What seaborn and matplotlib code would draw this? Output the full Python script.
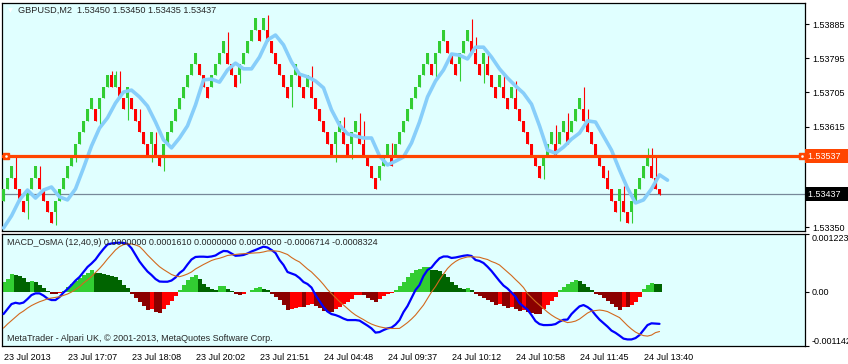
import numpy as np
import seaborn as sns
import matplotlib.pyplot as plt
from matplotlib.transforms import blended_transform_factory

sns.set_style("white")
plt.rcParams['font.family'] = ['Liberation Sans', 'DejaVu Sans']
plt.rcParams['font.size'] = 6.5

header = "GBPUSD,M2  1.53450 1.53450 1.53435 1.53437"
macd_header = "MACD_OsMA (12,40,9) 0.0000000 0.0001610 0.0000000 0.0000000 -0.0006714 -0.0008324"
copyright_text = "MetaTrader - Alpari UK, \u00a9 2001-2013, MetaQuotes Software Corp."

# candles (one per bar)
opens = [1.5342, 1.5345, 1.5348, 1.5348, 1.5345, 1.5342, 1.5342, 1.5345, 1.5348, 1.5348,
         1.5345, 1.5342, 1.5339, 1.5339, 1.5342, 1.5345, 1.5348, 1.5351, 1.5354, 1.5357,
         1.5360, 1.5363, 1.5366, 1.5366, 1.5366, 1.5369, 1.5372, 1.5375, 1.5372, 1.5372,
         1.5369, 1.5369, 1.5369, 1.5366, 1.5363, 1.5360, 1.5357, 1.5357, 1.5357, 1.5354,
         1.5354, 1.5357, 1.5360, 1.5363, 1.5366, 1.5369, 1.5372, 1.5375, 1.5378, 1.5378,
         1.5375, 1.5372, 1.5372, 1.5375, 1.5378, 1.5381, 1.5381, 1.5378, 1.5375, 1.5375,
         1.5378, 1.5381, 1.5384, 1.5387, 1.5387, 1.5387, 1.5387, 1.5384, 1.5381, 1.5378,
         1.5375, 1.5372, 1.5372, 1.5375, 1.5375, 1.5372, 1.5372, 1.5372, 1.5369, 1.5366,
         1.5363, 1.5360, 1.5357, 1.5357, 1.5360, 1.5360, 1.5357, 1.5357, 1.5360, 1.5360,
         1.5357, 1.5354, 1.5351, 1.5348, 1.5348, 1.5351, 1.5354, 1.5354, 1.5354, 1.5357,
         1.5360, 1.5363, 1.5366, 1.5369, 1.5372, 1.5375, 1.5378, 1.5378, 1.5378, 1.5381,
         1.5384, 1.5384, 1.5381, 1.5378, 1.5378, 1.5381, 1.5384, 1.5384, 1.5381, 1.5378,
         1.5378, 1.5378, 1.5375, 1.5372, 1.5372, 1.5372, 1.5369, 1.5369, 1.5369, 1.5366,
         1.5363, 1.5360, 1.5357, 1.5354, 1.5351, 1.5351, 1.5354, 1.5357, 1.5357, 1.5357,
         1.5360, 1.5360, 1.5360, 1.5363, 1.5366, 1.5366, 1.5363, 1.5360, 1.5357, 1.5354,
         1.5351, 1.5348, 1.5345, 1.5342, 1.5342, 1.5342, 1.5339, 1.5339, 1.5342, 1.5345,
         1.5348, 1.5351, 1.5351, 1.5348, 1.5345]
closes = [1.5345, 1.5348, 1.5351, 1.5345, 1.5342, 1.5339, 1.5345, 1.5348, 1.5351, 1.5345,
          1.5342, 1.5339, 1.5336, 1.5342, 1.5345, 1.5348, 1.5351, 1.5354, 1.5357, 1.5360,
          1.5363, 1.5366, 1.5369, 1.5363, 1.5369, 1.5372, 1.5375, 1.5372, 1.5375, 1.5369,
          1.5366, 1.5372, 1.5366, 1.5363, 1.5360, 1.5357, 1.5354, 1.5360, 1.5354, 1.5351,
          1.5357, 1.5360, 1.5363, 1.5366, 1.5369, 1.5372, 1.5375, 1.5378, 1.5381, 1.5375,
          1.5372, 1.5369, 1.5375, 1.5378, 1.5381, 1.5384, 1.5378, 1.5375, 1.5372, 1.5378,
          1.5381, 1.5384, 1.5387, 1.5390, 1.5384, 1.5390, 1.5384, 1.5381, 1.5378, 1.5375,
          1.5372, 1.5369, 1.5375, 1.5378, 1.5372, 1.5369, 1.5375, 1.5369, 1.5366, 1.5363,
          1.5360, 1.5357, 1.5354, 1.5360, 1.5363, 1.5357, 1.5354, 1.5360, 1.5363, 1.5357,
          1.5354, 1.5351, 1.5348, 1.5345, 1.5351, 1.5354, 1.5357, 1.5351, 1.5357, 1.5360,
          1.5363, 1.5366, 1.5369, 1.5372, 1.5375, 1.5378, 1.5381, 1.5375, 1.5381, 1.5384,
          1.5387, 1.5381, 1.5378, 1.5375, 1.5381, 1.5384, 1.5387, 1.5381, 1.5378, 1.5375,
          1.5381, 1.5375, 1.5372, 1.5369, 1.5375, 1.5369, 1.5366, 1.5372, 1.5366, 1.5363,
          1.5360, 1.5357, 1.5354, 1.5351, 1.5348, 1.5354, 1.5357, 1.5360, 1.5354, 1.5360,
          1.5363, 1.5357, 1.5363, 1.5366, 1.5369, 1.5363, 1.5360, 1.5357, 1.5354, 1.5351,
          1.5348, 1.5345, 1.5342, 1.5339, 1.5345, 1.5339, 1.5336, 1.5342, 1.5345, 1.5348,
          1.5351, 1.5354, 1.5348, 1.5345, 1.53437]
upper_wicks = {3: 1.5354, 9: 1.5351, 27: 1.53762, 28: 1.53762, 29: 1.53762, 34: 1.5366,
               38: 1.5360, 56: 1.53864, 66: 1.53909, 77: 1.53774, 85: 1.53639, 89: 1.53651,
               90: 1.5363, 97: 1.53573, 117: 1.53897, 118: 1.53852, 121: 1.5381, 125: 1.5375,
               128: 1.53735, 138: 1.53618, 141: 1.53651, 145: 1.5372, 146: 1.5366,
               151: 1.53501, 155: 1.53459, 161: 1.53558, 162: 1.53558, 163: 1.5354}
lower_wicks = {6: 1.53372, 13: 1.53357, 18: 1.53522, 24: 1.53618, 31: 1.53633, 37: 1.53522,
               40: 1.53498, 59: 1.53729, 72: 1.53666, 83: 1.53522, 87: 1.53531, 94: 1.53474,
               108: 1.53744, 114: 1.53735, 120: 1.53729, 135: 1.53477, 154: 1.53366,
               157: 1.5336, 164: 1.53435}

# light blue moving average, read every second bar (it runs two bars past the last candle)
ma_bars = list(range(0, 168, 2))
ma_price = [1.53348, 1.53380, 1.53422, 1.53448, 1.53427, 1.53448, 1.53456, 1.53430, 1.53422, 1.53451,
            1.53506, 1.53564, 1.53611, 1.53638, 1.53677, 1.53706, 1.53711, 1.53693, 1.53669, 1.53627,
            1.53580, 1.53559, 1.53585, 1.53617, 1.53672, 1.53738, 1.53740, 1.53732, 1.53764, 1.53782,
            1.53767, 1.53767, 1.53798, 1.53843, 1.53856, 1.53830, 1.53785, 1.53753, 1.53746, 1.53735,
            1.53717, 1.53659, 1.53619, 1.53596, 1.53590, 1.53585, 1.53585, 1.53538, 1.53514, 1.53524,
            1.53535, 1.53572, 1.53627, 1.53693, 1.53735, 1.53764, 1.53806, 1.53803, 1.53793, 1.53824,
            1.53824, 1.53798, 1.53767, 1.53743, 1.53722, 1.53703, 1.53674, 1.53617, 1.53553, 1.53545,
            1.53561, 1.53582, 1.53598, 1.53630, 1.53627, 1.53590, 1.53553, 1.53501, 1.53453, 1.53414,
            1.53422, 1.53451, 1.53488, 1.53474]

macd = [-4.66e-4, -3.61e-4, -2.56e-4, -2.29e-4, -2.46e-4, -2.25e-4, -1.51e-4, -0.67e-4, -0.32e-4, -0.32e-4,
        -0.78e-4, -1.41e-4, -1.72e-4, -1.72e-4, -1.09e-4, -0.15e-4, 0.59e-4, 1.43e-4, 2.37e-4, 3.11e-4,
        4.16e-4, 5.21e-4, 5.94e-4, 6.78e-4, 7.94e-4, 8.99e-4, 9.93e-4, 10.14e-4, 10.25e-4, 10.31e-4,
        10.25e-4, 10.04e-4, 9.14e-4, 7.73e-4, 6.36e-4, 5.27e-4, 4.26e-4, 3.53e-4, 2.69e-4, 2.16e-4,
        2.12e-4, 2.12e-4, 2.37e-4, 3.00e-4, 3.95e-4, 4.58e-4, 5.73e-4, 6.78e-4, 7.31e-4, 7.37e-4,
        7.37e-4, 7.31e-4, 7.41e-4, 7.62e-4, 8.15e-4, 8.57e-4, 8.51e-4, 8.04e-4, 7.56e-4, 7.62e-4,
        7.73e-4, 8.04e-4, 8.46e-4, 8.78e-4, 9.14e-4, 9.47e-4, 9.30e-4, 8.78e-4, 8.15e-4, 6.68e-4,
        5.63e-4, 4.16e-4, 3.84e-4, 3.53e-4, 2.90e-4, 2.06e-4, 1.64e-4, 0.90e-4, -0.67e-4, -1.93e-4,
        -3.19e-4, -4.14e-4, -4.66e-4, -4.87e-4, -5.19e-4, -5.61e-4, -5.92e-4, -5.92e-4, -5.92e-4, -6.03e-4,
        -6.55e-4, -7.08e-4, -7.67e-4, -8.55e-4, -8.44e-4, -8.02e-4, -7.67e-4, -7.50e-4, -6.87e-4, -5.92e-4,
        -4.24e-4, -2.98e-4, -1.30e-4, 0.38e-4, 1.43e-4, 3.32e-4, 4.58e-4, 5.10e-4, 6.15e-4, 7.04e-4,
        7.41e-4, 7.41e-4, 7.10e-4, 7.20e-4, 7.37e-4, 7.56e-4, 7.67e-4, 7.52e-4, 6.68e-4, 6.47e-4,
        6.05e-4, 5.27e-4, 4.37e-4, 3.32e-4, 2.27e-4, 1.32e-4, 0.69e-4, -0.15e-4, -1.03e-4, -2.35e-4,
        -3.09e-4, -3.72e-4, -4.87e-4, -6.13e-4, -6.76e-4, -6.97e-4, -6.97e-4, -6.93e-4, -6.76e-4, -6.24e-4,
        -5.86e-4, -5.82e-4, -4.66e-4, -3.82e-4, -3.05e-4, -2.77e-4, -3.19e-4, -3.82e-4, -4.87e-4, -5.82e-4,
        -6.55e-4, -7.29e-4, -8.13e-4, -8.59e-4, -9.18e-4, -9.81e-4, -9.98e-4, -9.98e-4, -9.70e-4, -9.07e-4,
        -8.02e-4, -6.97e-4, -6.60e-4, -6.65e-4, -6.714e-4]
signal = [-7.60e-4, -6.76e-4, -6.03e-4, -5.29e-4, -4.56e-4, -4.03e-4, -3.40e-4, -2.88e-4, -2.46e-4, -2.08e-4,
          -1.79e-4, -1.47e-4, -1.30e-4, -1.16e-4, -1.03e-4, -0.74e-4, -0.46e-4, -0.04e-4, 0.48e-4, 1.07e-4,
          1.85e-4, 2.48e-4, 3.21e-4, 4.05e-4, 4.89e-4, 5.84e-4, 6.89e-4, 7.83e-4, 8.78e-4, 9.47e-4,
          9.89e-4, 10.04e-4, 10.04e-4, 9.83e-4, 9.51e-4, 8.67e-4, 7.73e-4, 6.89e-4, 6.05e-4, 5.27e-4,
          4.68e-4, 4.16e-4, 3.63e-4, 3.32e-4, 3.17e-4, 3.42e-4, 3.74e-4, 4.16e-4, 4.79e-4, 5.27e-4,
          5.73e-4, 6.15e-4, 6.57e-4, 6.85e-4, 7.04e-4, 7.31e-4, 7.62e-4, 7.73e-4, 7.85e-4, 7.94e-4,
          7.98e-4, 8.04e-4, 8.11e-4, 8.15e-4, 8.21e-4, 8.36e-4, 8.57e-4, 8.61e-4, 8.57e-4, 8.46e-4,
          8.15e-4, 7.83e-4, 7.20e-4, 6.68e-4, 6.26e-4, 5.52e-4, 4.79e-4, 4.16e-4, 3.32e-4, 2.48e-4,
          1.53e-4, 0.48e-4, -0.36e-4, -1.20e-4, -2.04e-4, -2.77e-4, -3.51e-4, -4.24e-4, -4.87e-4, -5.36e-4,
          -5.82e-4, -6.34e-4, -6.76e-4, -7.08e-4, -7.33e-4, -7.50e-4, -7.64e-4, -7.69e-4, -7.69e-4, -7.67e-4,
          -7.08e-4, -6.45e-4, -5.71e-4, -4.87e-4, -3.82e-4, -2.77e-4, -1.41e-4, -0.04e-4, 1.11e-4, 2.48e-4,
          3.74e-4, 4.89e-4, 5.73e-4, 6.36e-4, 6.83e-4, 7.10e-4, 7.31e-4, 7.35e-4, 7.31e-4, 7.25e-4,
          6.99e-4, 6.78e-4, 6.36e-4, 6.05e-4, 5.63e-4, 4.89e-4, 4.16e-4, 3.42e-4, 2.58e-4, 1.79e-4,
          0.90e-4, -0.36e-4, -1.20e-4, -2.04e-4, -2.77e-4, -3.51e-4, -4.24e-4, -4.87e-4, -5.40e-4, -5.82e-4,
          -6.13e-4, -6.45e-4, -6.34e-4, -6.13e-4, -5.71e-4, -5.08e-4, -4.45e-4, -4.03e-4, -3.93e-4, -3.82e-4,
          -3.93e-4, -4.14e-4, -4.56e-4, -4.98e-4, -5.40e-4, -6.24e-4, -7.08e-4, -7.81e-4, -8.44e-4, -8.86e-4,
          -9.18e-4, -9.28e-4, -9.07e-4, -8.55e-4, -8.324e-4]
osma = [2.10e-4, 2.73e-4, 3.78e-4, 3.57e-4, 3.36e-4, 2.94e-4, 2.10e-4, 2.31e-4, 2.10e-4, 1.37e-4,
        0.74e-4, 0.11e-4, -0.42e-4, -0.53e-4, -0.32e-4, 0.11e-4, 1.05e-4, 1.68e-4, 2.31e-4, 2.94e-4,
        3.57e-4, 3.99e-4, 4.52e-4, 3.99e-4, 3.89e-4, 3.84e-4, 3.57e-4, 3.36e-4, 3.05e-4, 2.52e-4,
        1.47e-4, 0.74e-4, -0.53e-4, -1.37e-4, -2.10e-4, -2.94e-4, -3.78e-4, -3.68e-4, -4.20e-4, -4.41e-4,
        -3.57e-4, -2.84e-4, -1.89e-4, -0.84e-4, 0.48e-4, 1.41e-4, 2.46e-4, 3.15e-4, 3.51e-4, 2.79e-4,
        1.74e-4, 1.05e-4, 0.69e-4, 0.48e-4, 1.20e-4, 1.26e-4, 0.69e-4, 0.21e-4, -0.48e-4, -0.69e-4,
        -0.36e-4, 0.06e-4, 0.48e-4, 0.90e-4, 1.05e-4, 0.69e-4, 0.36e-4, -0.36e-4, -1.05e-4, -1.74e-4,
        -2.79e-4, -3.72e-4, -3.68e-4, -3.36e-4, -3.15e-4, -3.26e-4, -2.73e-4, -2.52e-4, -2.94e-4, -3.47e-4,
        -3.99e-4, -4.20e-4, -4.31e-4, -3.68e-4, -3.15e-4, -2.63e-4, -2.10e-4, -1.47e-4, -0.74e-4, -0.63e-4,
        -0.74e-4, -1.26e-4, -1.68e-4, -2.10e-4, -1.47e-4, -0.84e-4, -0.42e-4, -0.17e-4, 0.36e-4, 1.20e-4,
        2.10e-4, 3.15e-4, 3.99e-4, 4.56e-4, 4.89e-4, 5.25e-4, 5.31e-4, 4.68e-4, 4.62e-4, 4.41e-4,
        3.84e-4, 3.15e-4, 2.10e-4, 1.41e-4, 0.90e-4, 0.69e-4, 0.90e-4, 0.48e-4, -0.42e-4, -0.84e-4,
        -1.26e-4, -1.68e-4, -2.21e-4, -2.79e-4, -2.63e-4, -3.05e-4, -3.36e-4, -3.26e-4, -3.57e-4, -3.99e-4,
        -3.89e-4, -4.20e-4, -4.41e-4, -4.56e-4, -4.58e-4, -3.57e-4, -2.73e-4, -1.89e-4, -1.05e-4, 0.32e-4,
        1.05e-4, 1.74e-4, 2.10e-4, 2.46e-4, 2.31e-4, 1.74e-4, 1.05e-4, 0.36e-4, -0.36e-4, -0.63e-4,
        -1.26e-4, -1.89e-4, -2.52e-4, -3.15e-4, -3.72e-4, -3.15e-4, -3.26e-4, -2.73e-4, -2.10e-4, -1.05e-4,
        0.63e-4, 1.37e-4, 1.89e-4, 1.70e-4, 1.61e-4]

time_labels = ["23 Jul 2013", "23 Jul 17:07", "23 Jul 18:08", "23 Jul 20:02", "23 Jul 21:51",
               "24 Jul 04:48", "24 Jul 09:37", "24 Jul 10:12", "24 Jul 10:58", "24 Jul 11:45",
               "24 Jul 13:40"]
time_label_bars = [0, 16, 32, 48, 64, 80, 96, 112, 128, 144, 160]
price_ticks = [1.53885, 1.53795, 1.53705, 1.53615, 1.53350]
hline_price = 1.53537
bid_price = 1.53437
macd_ticks = [0.001223, 0.0, -0.001142]

BG = '#E0FFFF'
UP, DOWN = '#32CD32', '#FF0000'
W, H = 848, 364

fig = plt.figure(figsize=(W / 100, H / 100), dpi=100)
fig.patch.set_facecolor('white')
ax = fig.add_axes([2 / W, 1 - 231 / H, 803 / W, 228 / H])
ax2 = fig.add_axes([2 / W, 1 - 346.3 / H, 803 / W, 112.8 / H])

for a in (ax, ax2):
    a.set_facecolor(BG)
    a.set_xlim(-0.375, 200.375)
    for s in a.spines.values():
        s.set_color('black')
        s.set_linewidth(0.9)

# ---- price panel
o = np.array(opens)
c = np.array(closes)
x = np.arange(len(o))
top = np.maximum(o, c)
bot = np.minimum(o, c)
hi = np.array([upper_wicks.get(k, t) for k, t in enumerate(top)])
lo = np.array([lower_wicks.get(k, b) for k, b in enumerate(bot)])
cols = np.where(c >= o, UP, DOWN)

ax.axhline(bid_price, color='#778899', lw=0.9, zorder=1)
ax.vlines(x, lo, hi, colors=cols, lw=0.8, zorder=2)
ax.bar(x, top - bot, bottom=bot, width=0.62, color=cols, lw=0, zorder=3)
sns.lineplot(x=ma_bars, y=ma_price, ax=ax, color='#87CEFA', lw=2.6, estimator=None, zorder=4)
ax.axhline(hline_price, color='#FF4500', lw=2.3, zorder=5)
ax.plot([0.55, 199.6], [hline_price] * 2, 's', ms=4.5, color='#FF4500', zorder=6)
ax.plot([0.55, 199.6], [hline_price] * 2, 's', ms=0.8, color='white', zorder=7)

ax.set_ylim(1.533402, 1.539403)
ax.set_xticks([])
ax.yaxis.tick_right()
ax.set_yticks(price_ticks)
ax.set_yticklabels([f"{p:.5f}" for p in price_ticks])
ax.tick_params(axis='y', direction='out', length=3, width=0.8, pad=2, labelsize=6.5, colors='black')
ax.set_xlabel('')
ax.set_ylabel('')

tr = blended_transform_factory(ax.transAxes, ax.transData)
ax.text(1.0035, hline_price, f"{hline_price:.5f}  ", transform=tr, ha='left', va='center',
        color='white', fontsize=6.5, clip_on=False,
        bbox=dict(boxstyle='square,pad=0.3', fc='#FF4500', ec='none'))
ax.text(1.0035, bid_price, f"{bid_price:.5f}  ", transform=tr, ha='left', va='center',
        color='white', fontsize=6.5, clip_on=False,
        bbox=dict(boxstyle='square,pad=0.3', fc='black', ec='none'))

# ---- MACD OsMA panel
h = np.array(osma)
hcols = []
for k, v in enumerate(h):
    p = h[k - 1] if k else v
    if v >= 0:
        hcols.append('#32CD32' if v >= p else '#006400')
    else:
        hcols.append('#FF0000' if v > p else '#8B0000')
ax2.bar(x, h, width=1.0, color=hcols, lw=0, zorder=2)
sns.lineplot(x=x, y=macd, ax=ax2, color='#0000FF', lw=1.6, estimator=None, zorder=3)
sns.lineplot(x=x, y=signal, ax=ax2, color='#D2691E', lw=0.8, estimator=None, zorder=4)

ax2.set_ylim(-0.001142, 0.001223)
ax2.yaxis.tick_right()
ax2.set_yticks(macd_ticks)
ax2.set_yticklabels(["0.001223", "0.00", "-0.001142"])
ax2.tick_params(axis='y', direction='out', length=3, width=0.8, pad=2, labelsize=6.5, colors='black')
labs = ax2.get_yticklabels()
labs[0].set_va('top')
labs[2].set_va('bottom')
ax2.set_xticks(time_label_bars)
ax2.set_xticklabels(time_labels, ha='left')
ax2.tick_params(axis='x', direction='out', length=4, width=0.8, pad=1, labelsize=6.5, colors='black')
ax2.set_xlabel('')
ax2.set_ylabel('')

fig.text(10 / W, 1 - 10.5 / H, '\u25bc', color='white', fontsize=4.5, ha='center', va='center',
         family=['DejaVu Sans'])
fig.text(18 / W, 1 - 10.7 / H, header, ha='left', va='center', fontsize=6.6)
fig.text(7 / W, 1 - 242.7 / H, macd_header, ha='left', va='center', fontsize=6.5)
fig.text(7 / W, 1 - 338.3 / H, copyright_text, ha='left', va='center', fontsize=6.5)

fig.savefig('out.png', dpi=100, facecolor='white')
